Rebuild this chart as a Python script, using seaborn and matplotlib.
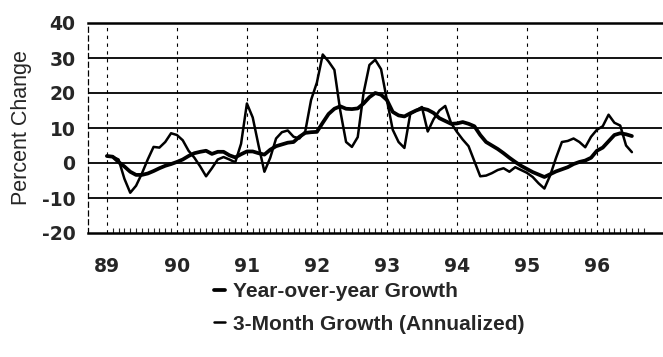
import numpy as np
import pandas as pd
import matplotlib
matplotlib.use("Agg")
import matplotlib.pyplot as plt
from matplotlib.lines import Line2D
from matplotlib.ticker import FixedLocator
import seaborn as sns

# Monthly data, Jan 1989 .. Jul 1996
start_year = 89
yoy_growth = [2.0, 1.8, 0.3, -1.0, -2.5, -3.4, -3.4, -3.0, -2.3, -1.5, -0.8, -0.3,
              0.3, 1.0, 2.0, 2.8, 3.2, 3.5, 2.6, 3.2, 3.2, 2.2, 1.6, 2.5,
              3.3, 3.3, 2.8, 2.4, 3.8, 4.8, 5.3, 5.8, 6.0, 7.5, 8.6, 8.8,
              8.9, 11.5, 14.0, 15.5, 16.2, 15.5, 15.4, 15.6, 17.0, 18.8, 20.0, 19.5,
              18.0, 14.6, 13.6, 13.3, 14.2, 15.0, 15.6, 15.2, 14.3, 12.8, 12.0, 11.2,
              11.3, 11.7, 11.2, 10.5, 8.0, 6.0, 5.0, 4.0, 2.8, 1.5, 0.3, -0.8,
              -1.7, -2.6, -3.3, -4.0, -3.2, -2.4, -1.8, -1.2, -0.3, 0.3, 0.7, 1.5,
              3.5, 4.4, 6.2, 8.0, 8.5, 8.2, 7.7]
three_month_growth = [2.0, 1.8, 1.0, -4.5, -8.5, -6.5, -3.0, 1.0, 4.6, 4.4, 6.0, 8.5,
                      8.0, 6.5, 3.5, 1.5, -1.0, -3.8, -1.5, 1.0, 1.7, 1.0, 0.2, 5.5,
                      17.0, 13.0, 5.0, -2.5, 1.5, 7.0, 8.8, 9.3, 7.5, 7.0, 9.0, 18.0,
                      23.0, 31.0, 29.0, 26.6, 15.0, 6.0, 4.6, 7.4, 20.0, 28.0, 29.5, 26.8,
                      18.0, 9.5, 6.0, 4.3, 14.0, 15.0, 16.0, 9.0, 12.5, 15.0, 16.3, 11.4,
                      8.9, 6.7, 4.8, 0.5, -3.8, -3.6, -2.9, -2.0, -1.5, -2.5, -1.2, -2.0,
                      -2.8, -4.0, -5.8, -7.3, -3.5, 1.5, 6.0, 6.3, 7.0, 6.0, 4.5, 7.5,
                      9.5, 10.5, 13.8, 11.5, 10.7, 5.0, 3.1]
series_names = ["Year-over-year Growth", "3-Month Growth (Annualized)"]
year_ticks = [89, 90, 91, 92, 93, 94, 95, 96]
y_ticks = [-20, -10, 0, 10, 20, 30, 40]

months = np.arange(len(yoy_growth))
t = start_year + months / 12.0
df = pd.DataFrame({"t": t, "yoy": yoy_growth, "m3": three_month_growth})

sns.set_style("white")
plt.rcParams['font.family'] = ['Liberation Sans', 'DejaVu Sans']
plt.rcParams['axes.unicode_minus'] = False

fig = plt.figure(figsize=(6.63, 3.57), dpi=100)
ax = fig.add_axes([88/663, 1 - 233/357, (662 - 88)/663, (233 - 23)/357])

# grid
for yv in y_ticks[1:-1]:
    ax.axhline(yv, color="black", lw=1.3, zorder=1)
for xv in year_ticks:
    ax.axvline(xv, color="black", lw=0.8, ls=(0, (3, 4)), zorder=1)

sns.lineplot(data=df, x="t", y="yoy", ax=ax, color="black", lw=2.7, zorder=3)
sns.lineplot(data=df, x="t", y="m3", ax=ax, color="black", lw=1.8, zorder=3)

ax.set_xlim(88.73, 96.93)
ax.set_ylim(-20, 40)
ax.set_yticks(y_ticks)
ax.set_yticklabels([str(v) for v in y_ticks])
ax.set_xticks(year_ticks)
ax.set_xticklabels([str(y) for y in year_ticks])
ax.xaxis.set_minor_locator(FixedLocator(start_year + np.arange(0, 93) / 12.0))
ax.tick_params(axis="x", which="major", direction="in", length=6, width=0.9,
               pad=17)
ax.tick_params(axis="x", which="minor", direction="in", length=3.5, width=0.8,
               bottom=True)
ax.tick_params(axis="y", length=0, pad=9)
for lab in ax.get_xticklabels() + ax.get_yticklabels():
    lab.set_fontweight("bold")
    lab.set_family(["DejaVu Sans"])
    lab.set_fontsize(13.5)
ax.set_xlabel("")
ax.set_ylabel("Percent Change", fontsize=15.5)
ax.yaxis.set_label_coords(-0.097, 0.5)

for s in ["top", "bottom"]:
    ax.spines[s].set_linewidth(1.8)
    ax.spines[s].set_color("black")
ax.spines["left"].set_linewidth(0.9)
ax.spines["left"].set_linestyle((0, (4, 3)))
ax.spines["left"].set_color("black")
ax.spines["right"].set_visible(False)

handles = [Line2D([0], [0], color="black", lw=2.7),
           Line2D([0], [0], color="black", lw=1.8)]
fig.legend(handles, series_names, loc="upper left",
           bbox_to_anchor=(214/663, 1 - 282/357), frameon=False,
           handlelength=0.55, handletextpad=0.35, labelspacing=0.65,
           prop={"weight": "bold", "size": 15}, borderpad=0, borderaxespad=0)

fig.savefig("out.png", dpi=100)
